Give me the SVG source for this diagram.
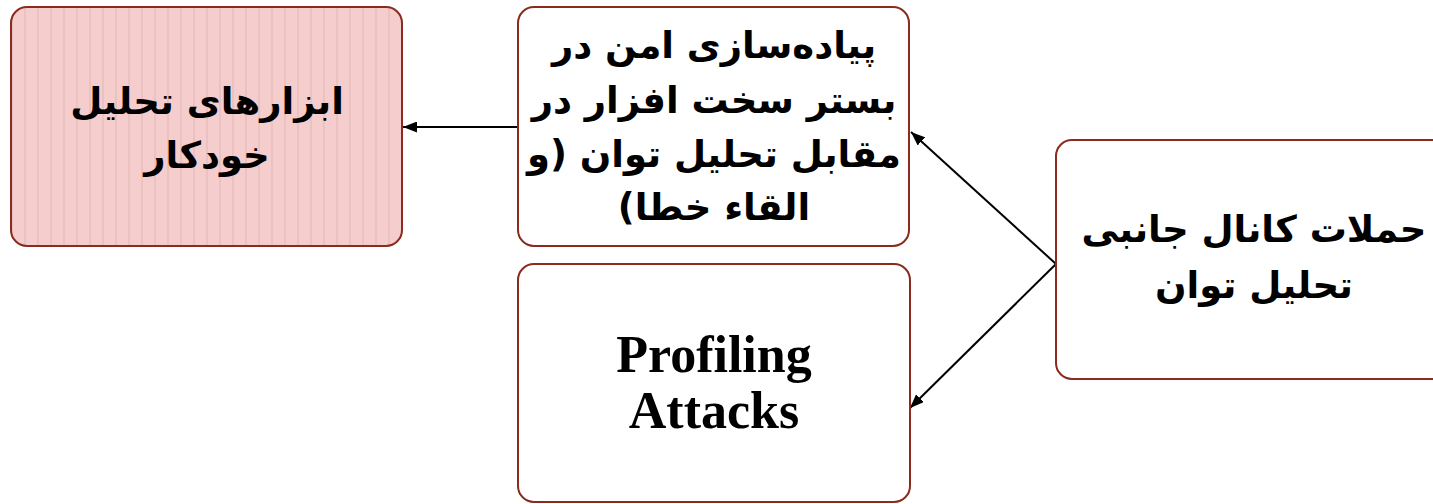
<svg xmlns="http://www.w3.org/2000/svg" width="1433" height="504" viewBox="0 0 1433 504">
<style>
.box{fill:#ffffff;stroke:#8b2a1e;stroke-width:2}
.fa{font-family:"DejaVu Sans",sans-serif;font-weight:bold;font-size:37px;fill:#000;text-anchor:middle}
.en{font-family:"Liberation Serif",serif;font-weight:bold;font-size:52px;fill:#000;text-anchor:middle}
.conn{stroke:#000;stroke-width:2;fill:none}
</style>
<defs>
<pattern id="stripes" x="11" y="0" width="13" height="20" patternUnits="userSpaceOnUse">
<rect width="13" height="20" fill="#f4cdcc"/>
<rect x="0" width="2" height="20" fill="#eac2c1"/>
</pattern>
<marker id="arr" viewBox="0 0 14 11" refX="14" refY="5.5" markerWidth="14" markerHeight="11" markerUnits="userSpaceOnUse" orient="auto">
<path d="M0,0 L14,5.5 L0,11 Z" fill="#000"/>
</marker>
</defs>
<g id="connectors">
<line class="conn" x1="518" y1="127" x2="403" y2="127" marker-end="url(#arr)"/>
<line class="conn" x1="1056" y1="264" x2="911" y2="132" marker-end="url(#arr)"/>
<line class="conn" x1="1056" y1="264" x2="910" y2="408" marker-end="url(#arr)"/>
</g>
<g id="node-tools">
<rect x="11" y="7" width="391" height="239" rx="16" fill="url(#stripes)" stroke="#8b2a1e" stroke-width="2"/>
<text class="fa" x="207" y="114" direction="rtl">ابزارهای تحلیل</text>
<text class="fa" x="207" y="168" direction="rtl">خودکار</text>
</g>
<g id="node-secure">
<rect class="box" x="518" y="7" width="391" height="239" rx="16"/>
<text class="fa" x="714" y="58" direction="rtl">پیاده‌سازی امن در</text>
<text class="fa" x="714" y="113" direction="rtl">بستر سخت افزار در</text>
<text class="fa" x="714" y="167" direction="rtl">مقابل تحلیل توان (و</text>
<text class="fa" x="714" y="220" direction="rtl">القاء خطا)</text>
</g>
<g id="node-profiling">
<rect class="box" x="518" y="264" width="392" height="238" rx="16"/>
<text class="en" x="714" y="372">Profiling</text>
<text class="en" x="714" y="428">Attacks</text>
</g>
<g id="node-sca">
<rect class="box" x="1056" y="140" width="400" height="239" rx="16"/>
<text class="fa" x="1254" y="242" direction="rtl">حملات کانال جانبی</text>
<text class="fa" x="1254" y="298" direction="rtl">تحلیل توان</text>
</g>
</svg>
